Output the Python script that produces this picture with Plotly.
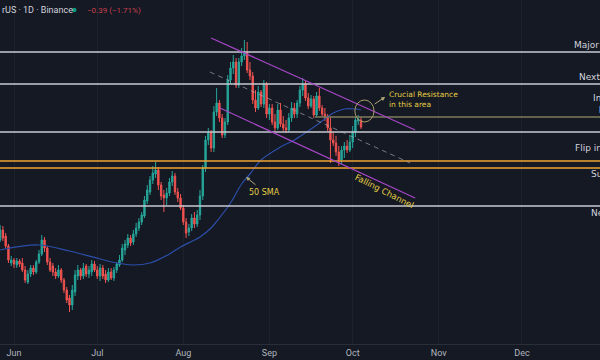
import plotly.graph_objects as go
import pandas as pd

# ---------------- data ----------------
start_date = "2023-05-27"
opens = [16.0,17.0,16.4,15.4,13.7,14.0,13.5,13.9,13.7,13.0,
         11.8,12.6,13.2,12.8,13.8,14.6,16.0,15.2,13.8,13.4,
         12.8,12.4,13.0,12.0,11.0,10.2,9.5,10.8,12.4,13.0,
         12.4,13.4,12.6,12.8,13.6,13.0,12.4,13.2,12.6,12.0,
         12.8,12.2,13.0,13.5,14.0,15.0,15.5,16.2,15.8,16.6,
         17.2,17.8,18.4,19.9,20.8,22.0,22.6,23.0,21.5,20.5,
         20.2,20.7,21.8,22.4,20.8,20.2,19.2,17.8,16.8,17.2,
         18.2,17.6,18.5,20.4,23.2,26.0,26.7,25.2,28.8,29.7,
         28.2,26.5,27.8,32.0,33.2,33.8,31.5,33.8,34.4,34.7,
         33.0,32.4,30.0,29.2,30.8,29.6,31.6,28.6,29.2,27.8,
         27.2,29.0,27.6,27.2,27.0,28.2,29.2,28.6,29.7,31.0,
         31.6,30.2,29.4,30.1,28.5,30.4,29.2,28.6,28.2,27.2,
         26.0,25.7,24.8,24.0,25.0,25.4,25.0,25.8,26.8,27.9,
         28.0]
highs = [17.5,17.4,16.7,15.6,14.4,14.2,14.2,14.1,14.2,13.4,
         13.0,13.5,13.5,14.0,15.0,16.5,16.3,15.4,14.2,13.7,
         13.2,13.5,13.2,12.2,11.3,10.5,11.5,13.0,13.5,13.2,
         13.7,13.6,13.4,14.0,13.9,13.4,13.6,13.5,13.0,13.2,
         13.2,13.3,13.8,14.5,15.6,16.0,16.6,16.5,17.0,17.7,
         18.2,18.8,20.4,21.5,22.4,23.4,23.8,23.3,21.8,21.0,
         21.2,22.2,22.9,22.7,21.2,20.6,19.5,18.2,17.6,18.6,
         18.8,19.0,21.0,23.5,26.4,27.2,27.0,29.4,31.2,30.0,
         28.6,28.2,32.5,33.8,34.5,34.2,34.2,35.2,36.0,35.8,
         33.8,32.8,31.0,31.4,31.0,32.0,31.8,29.6,29.6,28.6,
         29.6,29.7,28.4,28.0,28.7,29.8,29.7,30.0,31.4,32.2,
         32.0,30.7,30.5,30.4,30.8,31.2,29.5,29.2,28.6,28.3,
         26.8,26.4,25.4,25.4,25.8,26.0,26.4,27.4,28.3,28.5,
         28.3]
lows = [15.8,15.9,15.2,13.7,13.4,13.2,13.2,13.3,12.8,11.7,
        11.6,12.3,12.5,12.6,13.6,14.4,14.8,13.5,12.8,12.4,
        12.1,12.2,11.7,10.7,9.7,8.8,9.0,10.4,12.0,12.0,
        12.1,12.3,12.2,12.4,12.8,12.1,11.9,12.1,11.7,11.8,
        12.0,11.9,12.7,13.3,13.8,14.5,15.2,15.4,15.5,16.3,
        16.9,17.5,18.2,19.6,20.5,21.6,22.2,21.0,20.0,18.8,
        19.5,20.4,21.4,20.5,19.8,19.0,17.5,16.2,16.4,16.9,
        17.2,17.3,18.0,20.0,22.8,25.5,24.8,24.8,28.4,27.8,
        26.2,26.2,27.5,31.6,32.6,31.2,31.2,33.4,34.0,32.7,
        32.0,29.6,28.8,29.0,29.3,29.2,28.2,28.0,27.5,26.9,
        27.0,27.3,26.9,26.7,26.8,27.8,28.2,28.2,29.3,30.4,
        29.9,29.1,29.2,28.2,28.3,28.9,28.3,27.9,26.9,23.7,
        25.4,24.4,23.4,23.6,24.2,24.7,24.8,25.2,26.3,27.5,
        27.1]
closes = [17.0,16.2,15.4,14.0,14.0,13.6,13.9,13.6,13.0,12.0,
          12.6,13.2,12.8,13.8,14.6,16.0,15.2,13.8,13.0,12.8,
          12.4,13.0,12.0,11.0,10.0,9.5,11.0,12.5,13.0,12.4,
          13.2,12.6,13.0,13.6,13.0,12.4,13.2,12.4,12.0,12.8,
          12.2,13.0,13.6,14.0,15.2,15.6,16.2,15.7,16.6,17.2,
          17.8,18.5,20.0,21.0,22.0,22.7,23.0,21.5,20.4,20.2,
          20.7,21.8,22.4,20.8,20.2,19.2,17.8,16.7,17.2,18.2,
          17.6,18.5,20.4,23.2,26.0,26.7,25.2,28.8,29.7,28.2,
          26.5,27.8,32.0,33.2,33.8,31.5,33.8,34.4,34.7,33.0,
          32.4,30.0,29.2,30.8,29.6,31.6,28.6,29.2,27.8,27.2,
          29.0,27.6,27.2,27.0,28.2,29.2,28.6,29.7,31.0,31.6,
          30.2,29.4,30.1,28.5,30.4,29.2,28.6,28.2,27.2,26.0,
          25.7,24.8,24.0,25.0,25.4,25.0,25.8,26.8,28.0,28.1,
          27.3]

# 50 SMA (day offset from start, value)
sma_day = [0, 14, 25, 36, 42, 48, 54, 61, 65, 72, 76, 79, 83, 87, 90, 94,
           101, 106, 111, 116, 120, 124, 128, 130]
sma_val = [15.0, 15.5, 14.9, 14.1, 13.7, 13.5, 13.7, 14.6, 15.3, 16.3, 17.2,
           18.2, 19.7, 21.6, 22.6, 24.0, 25.3, 26.0, 26.9, 27.9, 28.7, 29.1,
           29.1, 29.0]

month_ticks = ["2023-06-01", "2023-07-01", "2023-08-01", "2023-09-01",
               "2023-10-01", "2023-11-01", "2023-12-01"]
month_labels = ["Jun", "Jul", "Aug", "Sep", "Oct", "Nov", "Dec"]

# horizontal levels
white_levels = [34.8, 31.6, 26.8, 19.4]
orange_levels = [23.9, 23.2]
olive_level = 28.3
olive_start = "2023-09-17 10:00"

# falling channel (date, price) pairs
upper_ch = [("2023-08-11 00:00", 36.2), ("2023-10-23 12:00", 27.0)]
lower_ch = [("2023-08-14 05:00", 29.2), ("2023-10-23 12:00", 20.2)]
mid_ch = [("2023-08-10 14:00", 32.8), ("2023-10-21 17:00", 23.7)]
circle_box = [("2023-10-01 19:00", 27.8), ("2023-10-08 17:00", 30.0)]

right_labels = [("Major Resistance", 0.9533, 35.5),
                ("Next Resistance", 0.9617, 32.3),
                ("Immediate<br>\u00a0\u00a0Resistance", 0.985, 29.65),
                ("Flip into support", 0.955, 25.2),
                ("Support", 0.9817, 22.6),
                ("Next Support", 0.9817, 18.7)]

# ---------------- figure ----------------
dates = pd.date_range(start_date, periods=len(opens), freq="D")
sma_dates = [pd.Timestamp(start_date) + pd.Timedelta(days=d) for d in sma_day]

BG = "#151924"
GREEN = "#26a69a"
RED = "#ef5350"
YEL = "#e3cc45"

fig = go.Figure()
fig.add_trace(go.Scatter(x=sma_dates, y=sma_val, mode="lines",
                         line=dict(color="#2c4ea8", width=1.2, shape="spline"),
                         hoverinfo="skip", showlegend=False))
fig.add_trace(go.Candlestick(x=dates, open=opens, high=highs, low=lows, close=closes,
                             increasing=dict(line=dict(color=GREEN, width=1), fillcolor=GREEN),
                             decreasing=dict(line=dict(color=RED, width=1), fillcolor=RED),
                             whiskerwidth=0, showlegend=False))

shapes = []
for lv in white_levels:
    shapes.append(dict(type="line", xref="paper", x0=0, x1=1, yref="y", y0=lv, y1=lv,
                       line=dict(color="#c8cad2", width=1.5)))
for lv in orange_levels:
    shapes.append(dict(type="line", xref="paper", x0=0, x1=1, yref="y", y0=lv, y1=lv,
                       line=dict(color="#f0a331", width=1.5)))
shapes.append(dict(type="line", xref="x", x0=olive_start, x1="2023-12-31", yref="y",
                   y0=olive_level, y1=olive_level, line=dict(color="#7d7b5b", width=1.5)))
for ch in (upper_ch, lower_ch):
    shapes.append(dict(type="line", xref="x", yref="y", x0=ch[0][0], y0=ch[0][1],
                       x1=ch[1][0], y1=ch[1][1], line=dict(color="#a546c4", width=1.3)))
shapes.append(dict(type="line", xref="x", yref="y", x0=mid_ch[0][0], y0=mid_ch[0][1],
                   x1=mid_ch[1][0], y1=mid_ch[1][1],
                   line=dict(color="rgba(180,183,192,0.6)", width=1, dash="5px,4px")))
shapes.append(dict(type="circle", xref="x", yref="y", x0=circle_box[0][0], y0=circle_box[0][1],
                   x1=circle_box[1][0], y1=circle_box[1][1],
                   line=dict(color="#a99c68", width=1)))
# green status dot in header
shapes.append(dict(type="circle", xref="paper", yref="paper", x0=72/600, x1=76.5/600,
                   y0=1-12.3/344, y1=1-7.8/344, fillcolor="#089981", line=dict(width=0)))

LABEL_FONT = "DejaVu Sans, sans-serif"
annotations = []
for txt, xp, yv in right_labels:
    annotations.append(dict(text=txt, xref="paper", x=xp, xanchor="left", yref="y", y=yv,
                            yanchor="middle", align="left", showarrow=False,
                            font=dict(color="#d1d4dc", size=9, family=LABEL_FONT)))
annotations += [
    dict(text="rUS · 1D · Binance", xref="paper", x=0, xanchor="left", yref="paper",
         y=1-10/344, yanchor="middle", showarrow=False,
         font=dict(color="#d1d4dc", size=9, family="Roboto")),
    dict(text="−0.39 (−1.71%)", xref="paper", x=85/600, xanchor="left", yref="paper",
         y=1-10/344, yanchor="middle", showarrow=False,
         font=dict(color="#c9404b", size=8, family="Roboto")),
    dict(text="Crucial Resistance<br>in this area", x="2023-10-13 10:00", y=30.05,
         xanchor="left", yanchor="middle", align="left", showarrow=False,
         font=dict(color=YEL, size=7.5, family=LABEL_FONT)),
    dict(text="", x="2023-10-12 17:00", y=30.3, ax=-12, ay=8, showarrow=True,
         arrowhead=2, arrowsize=0.8, arrowwidth=1, arrowcolor="#b3a878"),
    dict(text="50 SMA", x="2023-08-24 00:00", y=20.8, xanchor="left", yanchor="middle",
         showarrow=False, font=dict(color=YEL, size=8, family=LABEL_FONT)),
    dict(text="", x="2023-08-23 14:00", y=22.3, ax=11, ay=9, showarrow=True,
         arrowhead=2, arrowsize=0.8, arrowwidth=1, arrowcolor="#b3a878"),
    dict(text="Falling Channel", x="2023-10-12 07:00", y=20.9, showarrow=False,
         textangle=27, font=dict(color=YEL, size=8.5, family=LABEL_FONT)),
]

fig.update_layout(
    width=600, height=360,
    margin=dict(l=0, r=0, t=0, b=16),
    paper_bgcolor=BG, plot_bgcolor=BG,
    font=dict(family="Roboto, sans-serif", color="#b2b5be"),
    shapes=shapes, annotations=annotations,
    showlegend=False,
    xaxis=dict(range=["2023-05-26 23:00", "2023-12-29 02:30"], rangeslider=dict(visible=False),
               tickvals=month_ticks, ticktext=month_labels, tickfont=dict(size=9, color="#b2b5be"),
               showgrid=True, gridcolor="#1d212c", gridwidth=1, zeroline=False,
               showline=True, linecolor="#2a2e39", linewidth=1, ticks="", fixedrange=True),
    yaxis=dict(range=[5.6, 40.0], showticklabels=False, showgrid=False, zeroline=False,
               fixedrange=True),
)

fig.write_html("out.html", config={"displayModeBar": False},
               post_script="document.body.style.margin='0';")
